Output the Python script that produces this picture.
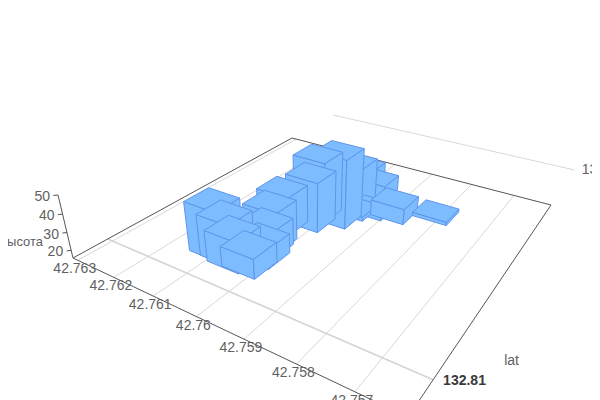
import numpy as np, pandas as pd, altair as alt

# --- values ---
bar_lat = [42.76111,42.76082,42.76058,42.76024,42.76034,42.76022,42.76040,42.76060,
           42.76019,42.76028,42.75980,42.75974,42.76025,42.75971,42.75889,42.75813,42.75966,42.75935]
bar_lon = [132.81109,132.81108,132.81099,132.81102,132.81181,132.81147,132.81205,132.81285,
           132.81335,132.81382,132.81385,132.81442,132.8161,132.81565,132.81482,132.81536,132.81442,132.81468]
bar_height = [43,38.5,32.7,26.6,30.7,26.5,37.9,37.3,44,50.3,55,45,25.6,24.6,24.7,17.6,18,18]
lat_ticks = [42.763,42.762,42.761,42.76,42.759,42.758,42.757]
lon_ticks = [132.81,132.82]
height_ticks = [20,30,40,50]
height_base = 15.6
lat_size, lon_size = 0.000765, 0.0008
FILL, EDGE = "#7dbcff", "#5f95ea"

# --- camera: a projective map of (lat, lon, height) to the window ---
H = np.array([[216.463691,351.522694,73.0],[37.84892,-57.3694118,258.0],[-0.290530168,0.453844842,1.0]])
cw = -0.001708; vp = (313,1267)
Z = np.array([vp[0]*cw, vp[1]*cw, cw])
def U(lat): return 0.02 + (42.763-lat)/0.006959
def V(lon): return 0.115 + (lon-132.81)/0.008418
def project(u,v,z=0.0):
    p = H @ np.array([u,v,1.0]) + Z*z
    return float(p[0]/p[2]), float(p[1]/p[2])
def depth(u,v): return (H[2] @ np.array([u,v,1.0]))

# --- bars to faces (far bars first) ---
rows=[]; pid=0
order = sorted(range(len(bar_lat)), key=lambda i:-depth(U(bar_lat[i]),V(bar_lon[i])))
# the two overlapping tallest bars: the tallest one sits behind its neighbour
a,b = order.index(9),order.index(10)
order[a],order[b] = order[b],order[a]
du = lat_size/0.006959/2; dv = lon_size/0.008418/2
for i in order:
    uc,vc,z = U(bar_lat[i]),V(bar_lon[i]),bar_height[i]-height_base
    u0,u1,v0,v1 = uc-du,uc+du,vc-dv,vc+dv
    faces=[[(u0,v0,0),(u1,v0,0),(u1,v0,z),(u0,v0,z)],
           [(u1,v0,0),(u1,v1,0),(u1,v1,z),(u1,v0,z)],
           [(u0,v0,z),(u1,v0,z),(u1,v1,z),(u0,v1,z)]]
    for f in faces:
        for k,c in enumerate(f+[f[0]]):
            x,y = project(*c)
            rows.append(dict(poly=pid,k=k,x=x,y=y))
        pid+=1
faces_df = pd.DataFrame(rows)

# --- axis and grid segments ---
def seg(rows,sid,a,b,kind):
    for k,c in enumerate((a,b)):
        x,y = project(*c)
        rows.append(dict(sid=sid,k=k,x=x,y=y,kind=kind))
g=[]; sid=0
for t in lat_ticks:
    seg(g,sid,(U(t),0,0),(U(t),1,0),"thin"); sid+=1
seg(g,sid,(0,V(lon_ticks[1]),0),(1,V(lon_ticks[1]),0),"thin"); sid+=1
seg(g,sid,(0,V(lon_ticks[0]),0),(1,V(lon_ticks[0]),0),"thick"); sid+=1
for a,b in [((0,0,0),(1,0,0)),((0,0,0),(0,1,0)),((0,1,0),(1,1,0)),((1,1,0),(1,0,0)),
            ((0,0,0),(0,0,50-height_base))]:
    seg(g,sid,a,b,"axis"); sid+=1
for t in height_ticks:
    seg(g,sid,(0,0,t-height_base),(-0.008,-0.008,t-height_base),"axis"); sid+=1
g_df = pd.DataFrame(g)

X = alt.X("x:Q",scale=alt.Scale(domain=[8,592],range=[0,584],nice=False,zero=False),axis=None)
Y = alt.Y("y:Q",scale=alt.Scale(domain=[8,400],range=[0,392],nice=False,zero=False),axis=None)

def lines(kind,color,w):
    return alt.Chart(g_df[g_df.kind==kind]).mark_line(color=color,strokeWidth=w).encode(X,Y,detail="sid:N",order="k:Q")

bars = alt.Chart(faces_df).mark_line(fill=FILL,stroke=EDGE,strokeWidth=1,strokeJoin="round").encode(X,Y,detail="poly:N",order="k:Q")

def labels(df,**kw):
    base = dict(font="Liberation Sans",fontSize=14,color="#5f5f5f")
    base.update(kw)
    return alt.Chart(df).mark_text(**base).encode(X,Y,text="t:N")

lat_df = pd.DataFrame([dict(zip("xy",project(U(t),0))) | {"t":str(t)} for t in lat_ticks])
z_df = pd.DataFrame([dict(zip("xy",project(0,0,t-height_base))) | {"t":str(t)} for t in height_ticks])
lon0_df = pd.DataFrame([dict(zip("xy",project(1,V(lon_ticks[0])))) | {"t":str(lon_ticks[0])}])
lon1_df = pd.DataFrame([dict(zip("xy",project(1,V(lon_ticks[1])))) | {"t":str(lon_ticks[1])}])
name_z = pd.DataFrame([dict(zip("xy",project(0,0,25-height_base))) | {"t":"высота"}])
name_lat = pd.DataFrame([dict(zip("xy",project(1,0.2))) | {"t":"lat"}])

chart = alt.layer(
    lines("thin","#d8d8d8",1),
    lines("thick","#d4d4d4",1.6),
    lines("axis","#555555",1),
    bars,
    labels(lat_df,dx=-3,dy=9),
    labels(z_df,align="right",dx=-8,dy=2),
    labels(lon0_df,align="left",dx=10,dy=1,fontWeight="bold",color="#3a3a3a"),
    labels(lon1_df,align="left",dx=7,dy=0),
    labels(name_z,align="right",dx=-26,dy=0,fontSize=13),
    labels(name_lat,dx=62,dy=6),
).properties(width=584,height=392,padding=0,autosize=alt.AutoSizeParams(type="none")).configure_view(stroke=None)

chart.save("out.html", embed_options={"renderer":"svg","actions":False})
